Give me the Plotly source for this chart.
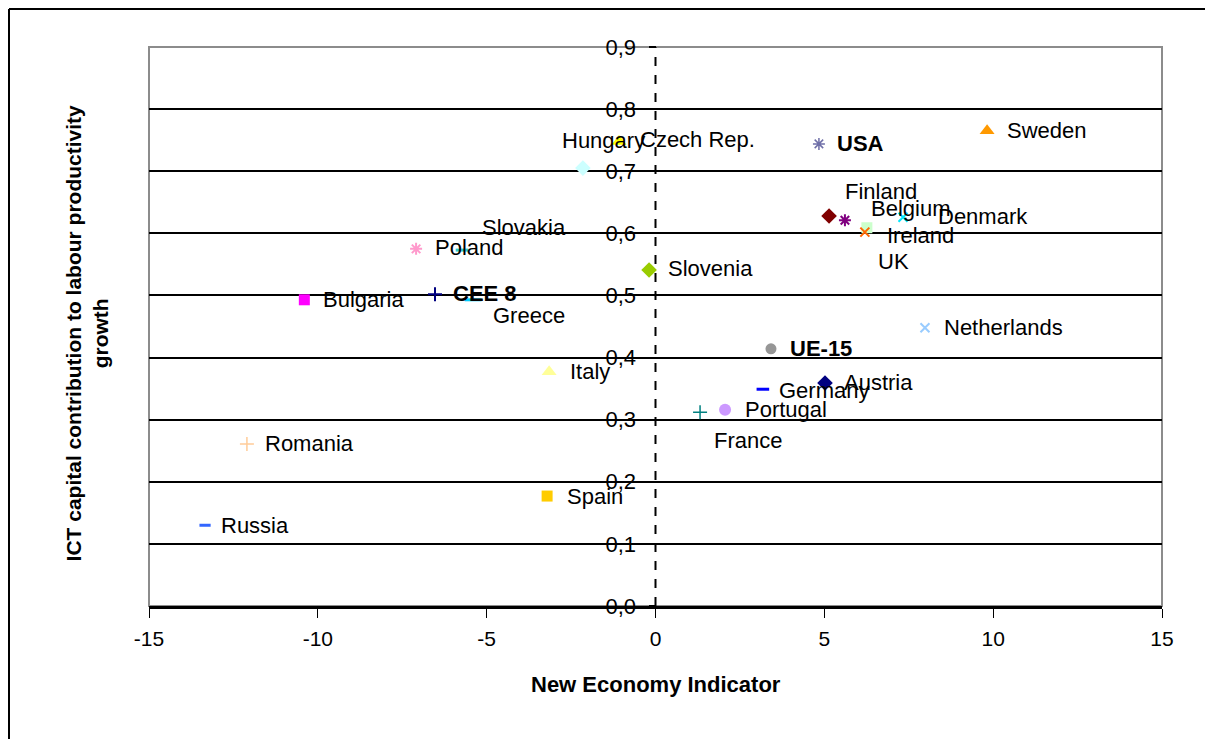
import plotly.graph_objects as go

# ---- data ----
countries = ["Sweden", "USA", "Finland", "Belgium", "UK", "Ireland", "Denmark",
             "Netherlands", "UE-15", "Austria", "Germany", "Portugal", "France",
             "Italy", "Slovenia", "Slovakia", "Poland", "Bulgaria", "CEE 8",
             "Greece", "Romania", "Spain", "Russia", "Hungary", "Czech Rep."]
new_economy = [9.82, 4.84, 5.14, 5.61, 6.26, 6.20, 7.33,
               7.98, 3.42, 5.02, 3.18, 2.06, 1.32,
               -3.15, -0.19, -5.73, -7.09, -10.40, -6.53,
               -5.40, -12.10, -3.21, -13.34, -2.15, -1.08]
ict_contrib = [0.765, 0.744, 0.628, 0.621, 0.609, 0.602, 0.626,
               0.448, 0.414, 0.359, 0.349, 0.316, 0.312,
               0.377, 0.541, 0.573, 0.575, 0.493, 0.502,
               0.493, 0.261, 0.177, 0.130, 0.705, 0.748]
x_ticks = [-15, -10, -5, 0, 5, 10, 15]
x_tick_labels = ["-15", "-10", "-5", "0", "5", "10", "15"]
y_ticks = [0.0, 0.1, 0.2, 0.3, 0.4, 0.5, 0.6, 0.7, 0.8, 0.9]

# ---- styles ----
styles = {
    "Sweden": ("triangle-up", "#FF9900", 13, 0),
    "USA": ("asterisk-open", "#6F6FA8", 10, 1.5),
    "Finland": ("diamond", "#800000", 12, 0),
    "Belgium": ("asterisk-open", "#800080", 10, 2),
    "UK": ("square", "#CCFFCC", 11, 0),
    "Ireland": ("x-thin-open", "#FF6600", 9, 2),
    "Denmark": ("x-thin-open", "#00E5FF", 9, 2),
    "Netherlands": ("x-thin-open", "#99CCFF", 9, 2),
    "UE-15": ("circle", "#969696", 11, 0),
    "Austria": ("diamond", "#000080", 12, 0),
    "Germany": ("line-ew-open", "#0000FF", 9, 3),
    "Portugal": ("circle", "#CC99FF", 12, 0),
    "France": ("cross-thin-open", "#008080", 10, 1.5),
    "Italy": ("triangle-up", "#FFFF99", 13, 0),
    "Slovenia": ("diamond", "#99CC00", 12, 0),
    "Slovakia": ("line-ew-open", "#33CCCC", 9, 3),
    "Poland": ("asterisk-open", "#FF99CC", 10, 2),
    "Bulgaria": ("square", "#FF00FF", 11, 0),
    "CEE 8": ("cross-thin-open", "#000080", 10, 2),
    "Greece": ("line-ew-open", "#00CCFF", 12, 3),
    "Romania": ("cross-thin-open", "#FFCC99", 10, 1.5),
    "Spain": ("square", "#FFCC00", 11, 0),
    "Russia": ("line-ew-open", "#3366FF", 8, 3),
    "Hungary": ("diamond", "#CCFFFF", 12, 0),
    "Czech Rep.": ("triangle-up", "#FFFF00", 13, 0),
}
# label offsets in pixels (dx right, dy down) from the point
label_offsets = {
    "Sweden": (18, 0), "USA": (16, 0), "Finland": (14, -24), "Belgium": (24, -12),
    "UK": (9, 34), "Ireland": (20, 3), "Denmark": (33, -1), "Netherlands": (17, 0),
    "UE-15": (17, 0), "Austria": (17, -1), "Germany": (14, 1), "Portugal": (18, 0),
    "France": (12, 28), "Italy": (19, 0), "Slovenia": (17, -1), "Slovakia": (18, -23),
    "Poland": (17, -1), "Bulgaria": (17, 0), "CEE 8": (16, -1), "Greece": (18, 16),
    "Romania": (16, 0), "Spain": (18, 0), "Russia": (14, 0), "Hungary": (-23, -28),
    "Czech Rep.": (19, -2),
}
bold = {"USA", "UE-15", "CEE 8"}
FONT = "Liberation Sans, Arial, sans-serif"

fig = go.Figure()
for name, xv, yv in zip(countries, new_economy, ict_contrib):
    sym, col, size, lw = styles[name]
    marker = dict(symbol=sym, color=col, size=size)
    if lw:
        marker["line"] = dict(color=col, width=lw)
    else:
        marker["line"] = dict(width=0)
    fig.add_trace(go.Scatter(x=[xv], y=[yv], mode="markers", name=name,
                             marker=marker, showlegend=False, cliponaxis=False))

annotations = []
for name, xv, yv in zip(countries, new_economy, ict_contrib):
    dx, dy = label_offsets[name]
    txt = f"<b>{name}</b>" if name in bold else name
    annotations.append(dict(x=xv, y=yv, xref="x", yref="y", text=txt, showarrow=False,
                            xanchor="left", yanchor="middle", xshift=dx, yshift=-dy,
                            font=dict(family=FONT, size=22, color="black")))

annotations.append(dict(x=0.5, y=-0.14, xref="paper", yref="paper",
                        text="<b>New Economy Indicator</b>", showarrow=False,
                        xanchor="center", yanchor="middle",
                        font=dict(family=FONT, size=22, color="black")))
annotations.append(dict(x=-0.061, y=0.488, xref="paper", yref="paper",
                        text="<b>ICT capital contribution to labour productivity<br>growth</b>",
                        showarrow=False, textangle=-90, xanchor="center", yanchor="middle",
                        font=dict(family=FONT, size=21, color="black")))

shapes = [
    # plot-area border (gray)
    dict(type="rect", xref="paper", yref="paper", x0=0, x1=1, y0=0, y1=1,
         line=dict(color="#8C8C8C", width=2), layer="below"),
    # dashed y axis at x = 0
    dict(type="line", xref="x", yref="y", x0=0, x1=0, y0=0, y1=0.9,
         line=dict(color="black", width=2, dash="dash"), layer="below"),
    # outer image frame (left and top)
    dict(type="line", xref="paper", yref="paper", x0=-0.1382, x1=-0.1382, y0=-0.3, y1=1.068,
         line=dict(color="black", width=2)),
    dict(type="line", xref="paper", yref="paper", x0=-0.1382, x1=1.06, y0=1.068, y1=1.068,
         line=dict(color="black", width=2)),
]

fig.update_layout(
    width=1213, height=739, autosize=False,
    margin=dict(l=141, r=59, t=39, b=141),
    paper_bgcolor="white", plot_bgcolor="white",
    separators=",.",
    font=dict(family=FONT, size=21, color="black"),
    annotations=annotations, shapes=shapes,
    xaxis=dict(range=[-15, 15], tickvals=x_ticks, ticktext=x_tick_labels,
               ticks="outside", ticklen=9,
               tickcolor="black", tickwidth=1, showline=True, linecolor="black",
               linewidth=3, showgrid=False, zeroline=False,
               tickfont=dict(family=FONT, size=21, color="black"),
               ticklabelstandoff=3),
    yaxis=dict(range=[0, 0.9], tickvals=y_ticks, tickformat=".1f",
               anchor="free", position=0.5, ticks="outside", ticklen=7,
               tickcolor="black", tickwidth=2, showline=False,
               showgrid=True, gridcolor="black", gridwidth=2, zeroline=False,
               tickfont=dict(family=FONT, size=22, color="black"),
               ticklabelstandoff=8),
)

fig.write_html("out.html")
